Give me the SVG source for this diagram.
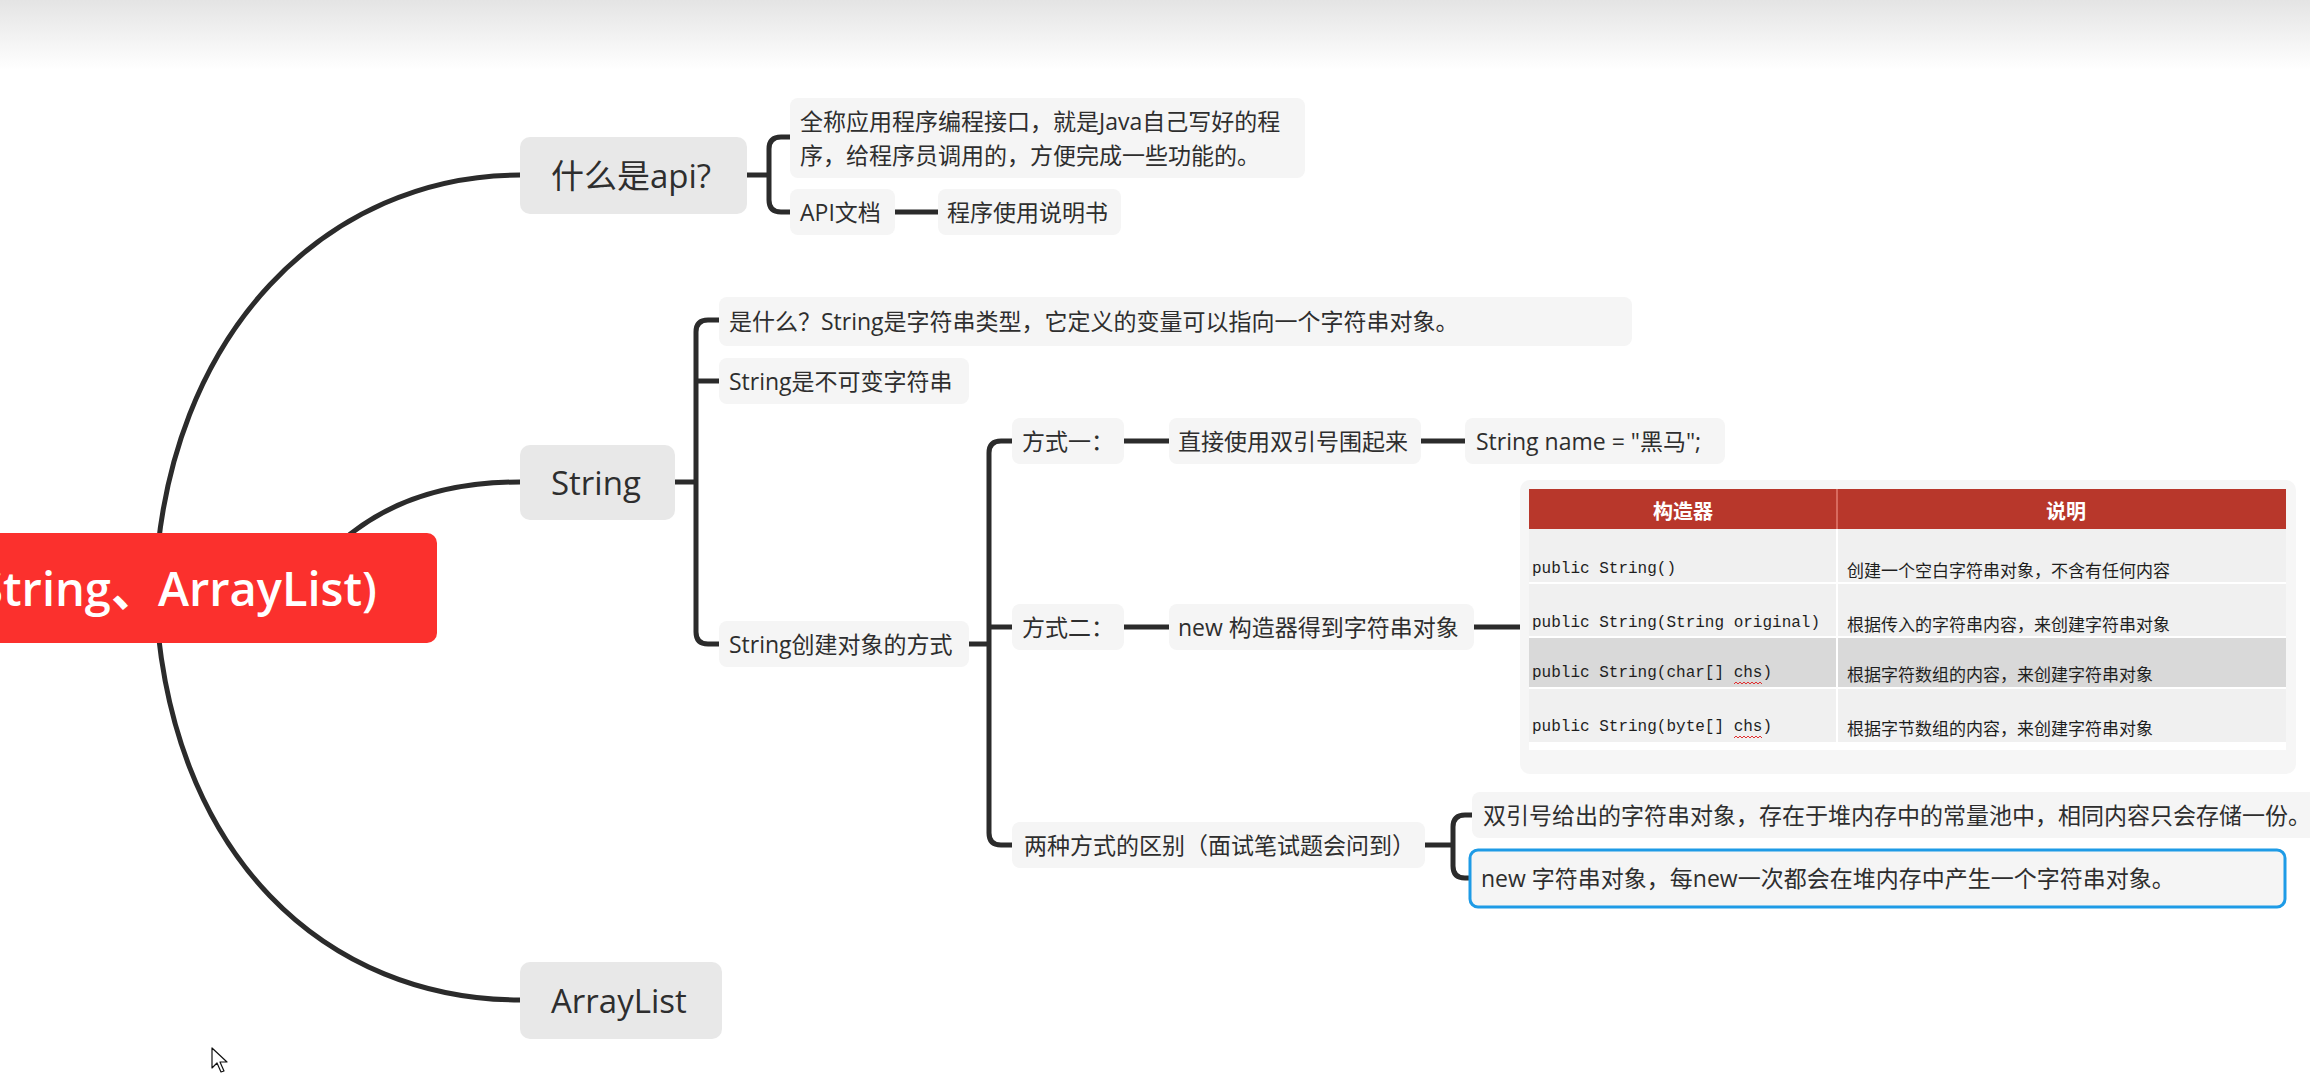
<svg xmlns="http://www.w3.org/2000/svg" width="2310" height="1074" viewBox="0 0 2310 1074">
  <defs>
    <linearGradient id="topShade" x1="0" y1="0" x2="0" y2="1">
      <stop offset="0" stop-color="#e4e4e4"/>
      <stop offset="1" stop-color="#ffffff"/>
    </linearGradient>
    <style>
      .t { font-family: "Open Sans", "Noto Sans CJK SC", sans-serif; fill: #2e2e2e; dominant-baseline: central; }
      .l1 { font-size: 33px; }
      .l2 { font-size: 23px; }
      .n1 { fill: #e8e8e8; }
      .n2 { fill: #f5f5f5; }
      .wire { fill: none; stroke: #2b2b2b; stroke-width: 5; stroke-linecap: butt; stroke-linejoin: round; }
      .curve { fill: none; stroke: #2b2b2b; stroke-width: 5; stroke-linecap: round; }
      .mono { font-family: "Liberation Mono", monospace; font-size: 16px; fill: #1e1e1e; dominant-baseline: central; }
      .desc { font-family: "Noto Sans CJK SC", sans-serif; font-size: 17px; fill: #1e1e1e; dominant-baseline: central; }
      .head { font-family: "Noto Sans CJK SC", sans-serif; font-size: 20px; font-weight: 700; fill: #ffffff; dominant-baseline: central; text-anchor: middle; }
      .squiggle { fill: none; stroke: #e03030; stroke-width: 1; }
    </style>
  </defs>

  <rect x="0" y="0" width="2310" height="1074" fill="#ffffff"/>
  <rect x="0" y="0" width="2310" height="70" fill="url(#topShade)"/>

  <!-- connectors -->
  <g id="connectors">
    <path class="curve" d="M155,588 C165,330 330,175 520,175"/>
    <path class="curve" d="M300,590 Q370,482 520,482"/>
    <path class="curve" d="M155,588 C165,860 330,1000 520,1000"/>

    <!-- api children -->
    <path class="wire" d="M747,175 H769"/>
    <path class="wire" d="M792,137 H781 Q769,137 769,149 V200 Q769,212 781,212 H792"/>
    <path class="wire" d="M895,212 H938"/>

    <!-- String children -->
    <path class="wire" d="M675,482 H696"/>
    <path class="wire" d="M719,320 H708 Q696,320 696,332 V632 Q696,644 708,644 H719"/>
    <path class="wire" d="M696,381 H719"/>

    <!-- creation ways -->
    <path class="wire" d="M969,644 H989"/>
    <path class="wire" d="M1012,441 H1001 Q989,441 989,453 V833 Q989,845 1001,845 H1012"/>
    <path class="wire" d="M989,627 H1012"/>
    <path class="wire" d="M1124,441 H1169"/>
    <path class="wire" d="M1421,441 H1465"/>
    <path class="wire" d="M1124,627 H1169"/>
    <path class="wire" d="M1474,627 H1520"/>

    <!-- difference -->
    <path class="wire" d="M1425,845 H1453"/>
    <path class="wire" d="M1472,815 H1465 Q1453,815 1453,827 V866 Q1453,878 1465,878 H1472"/>
  </g>

  <!-- root -->
  <g id="root">
    <rect x="-20" y="533" width="457" height="110" rx="10" fill="#fb302d"/>
    <text x="377" y="588" text-anchor="end" font-family="'Open Sans', 'Noto Sans CJK SC', sans-serif" font-size="47" font-weight="600" fill="#ffffff" dominant-baseline="central">String、ArrayList)</text>
  </g>

  <!-- level 1 -->
  <g id="node-api">
    <rect class="n1" x="520" y="137" width="227" height="77" rx="10"/>
    <text class="t l1" x="551" y="175">什么是api?</text>
  </g>
  <g id="node-string">
    <rect class="n1" x="520" y="445" width="155" height="75" rx="10"/>
    <text class="t l1" x="551" y="482">String</text>
  </g>
  <g id="node-arraylist">
    <rect class="n1" x="520" y="962" width="202" height="77" rx="10"/>
    <text class="t l1" x="551" y="1000">ArrayList</text>
  </g>

  <!-- api details -->
  <g id="node-api-def">
    <rect class="n2" x="790" y="98" width="515" height="80" rx="8"/>
    <text class="t l2" x="800" y="121">全称应用程序编程接口，就是Java自己写好的程</text>
    <text class="t l2" x="800" y="155">序，给程序员调用的，方便完成一些功能的。</text>
  </g>
  <g id="node-api-doc">
    <rect class="n2" x="790" y="189" width="105" height="46" rx="8"/>
    <text class="t l2" x="800" y="212">API文档</text>
  </g>
  <g id="node-api-manual">
    <rect class="n2" x="938" y="189" width="183" height="46" rx="8"/>
    <text class="t l2" x="947" y="212">程序使用说明书</text>
  </g>

  <!-- String details -->
  <g id="node-what">
    <rect class="n2" x="719" y="297" width="913" height="49" rx="8"/>
    <text class="t l2" x="729" y="321">是什么？String是字符串类型，它定义的变量可以指向一个字符串对象。</text>
  </g>
  <g id="node-immutable">
    <rect class="n2" x="719" y="358" width="250" height="46" rx="8"/>
    <text class="t l2" x="729" y="381">String是不可变字符串</text>
  </g>
  <g id="node-create">
    <rect class="n2" x="719" y="621" width="250" height="46" rx="8"/>
    <text class="t l2" x="729" y="644">String创建对象的方式</text>
  </g>

  <!-- way one -->
  <g id="node-way1">
    <rect class="n2" x="1012" y="418" width="112" height="46" rx="8"/>
    <text class="t l2" x="1022" y="441">方式一：</text>
  </g>
  <g id="node-literal">
    <rect class="n2" x="1169" y="418" width="252" height="46" rx="8"/>
    <text class="t l2" x="1178" y="441">直接使用双引号围起来</text>
  </g>
  <g id="node-literal-code">
    <rect class="n2" x="1465" y="418" width="260" height="46" rx="8"/>
    <text class="t l2" x="1476" y="441">String name = "黑马";</text>
  </g>

  <!-- way two -->
  <g id="node-way2">
    <rect class="n2" x="1012" y="604" width="112" height="46" rx="8"/>
    <text class="t l2" x="1022" y="627">方式二：</text>
  </g>
  <g id="node-ctor">
    <rect class="n2" x="1169" y="604" width="305" height="46" rx="8"/>
    <text class="t l2" x="1178" y="627">new 构造器得到字符串对象</text>
  </g>
  <g id="node-ctor-table">
    <rect x="1520" y="480" width="776" height="294" rx="10" fill="#f6f6f6"/>
    <rect x="1529" y="529" width="757" height="213" fill="#f0f0f0"/>
    <rect x="1529" y="637" width="757" height="51" fill="#d9d9d9"/>
    <path d="M1529,583 H2286 M1529,637 H2286 M1529,688 H2286 M1837,529 V742" stroke="#ffffff" stroke-width="2"/>
    <rect x="1529" y="742" width="757" height="8" fill="#ffffff"/>
    <rect x="1529" y="489" width="757" height="40" fill="#b8372b"/>
    <path d="M1837,489 V529" stroke="#d86a5e" stroke-width="2"/>
    <text class="head" x="1683" y="510">构造器</text>
    <text class="head" x="2066" y="510">说明</text>
    <text class="mono" x="1532" y="569">public String()</text>
    <text class="desc" x="1847" y="569">创建一个空白字符串对象，不含有任何内容</text>
    <text class="mono" x="1532" y="623">public String(String original)</text>
    <text class="desc" x="1847" y="623">根据传入的字符串内容，来创建字符串对象</text>
    <text class="mono" x="1532" y="673">public String(char[] chs)</text>
    <text class="desc" x="1847" y="673">根据字符数组的内容，来创建字符串对象</text>
    <text class="mono" x="1532" y="727">public String(byte[] chs)</text>
    <text class="desc" x="1847" y="727">根据字节数组的内容，来创建字符串对象</text>
    <path class="squiggle" d="M1734,684 l2,-2 l2,2 l2,-2 l2,2 l2,-2 l2,2 l2,-2 l2,2 l2,-2 l2,2 l2,-2 l2,2 l2,-2 l2,2"/>
    <path class="squiggle" d="M1734,738 l2,-2 l2,2 l2,-2 l2,2 l2,-2 l2,2 l2,-2 l2,2 l2,-2 l2,2 l2,-2 l2,2 l2,-2 l2,2"/>
  </g>

  <!-- difference between the two ways -->
  <g id="node-diff">
    <rect class="n2" x="1012" y="822" width="413" height="46" rx="8"/>
    <text class="t l2" x="1024" y="845">两种方式的区别（面试笔试题会问到）</text>
  </g>
  <g id="node-diff-literal">
    <rect class="n2" x="1472" y="792" width="860" height="46" rx="8"/>
    <text class="t l2" x="1483" y="815">双引号给出的字符串对象，存在于堆内存中的常量池中，相同内容只会存储一份。</text>
  </g>
  <g id="node-diff-new">
    <rect x="1470" y="850" width="815" height="57" rx="8" fill="#f5f5f5" stroke="#1e9be6" stroke-width="3"/>
    <text class="t l2" x="1481" y="878">new 字符串对象，每new一次都会在堆内存中产生一个字符串对象。</text>
  </g>

  <!-- pointer -->
  <path d="M212,1048 V1068 L217,1063 L221,1072 L224,1071 L220,1062 L227,1062 Z" fill="#ffffff" stroke="#111111" stroke-width="1.2" stroke-linejoin="round"/>
</svg>
